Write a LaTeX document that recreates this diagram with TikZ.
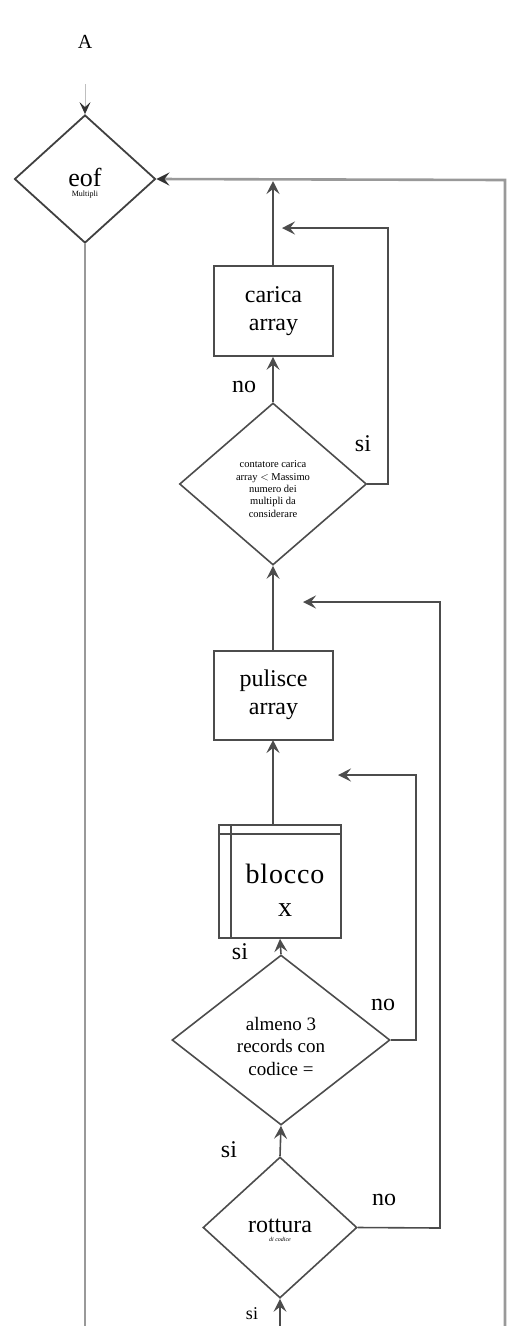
\documentclass[tikz,border=0pt]{standalone}
\usepackage{fontspec}
\setmainfont{Liberation Serif}
\usetikzlibrary{shapes.geometric,arrows.meta}
\tikzset{
  ln/.style={draw=black!70, line width=1.6pt},
  arr/.style={ln, -{Stealth[length=13pt,width=13pt,inset=5pt]}},
  gln/.style={draw=black!40, line width=2.6pt},
  garr/.style={gln, -{Stealth[length=13pt,width=13pt,inset=5pt,color=black!80]}},
  box/.style={rectangle, ln, inner sep=0pt},
  lbl/.style={font=\fontsize{24}{28}\selectfont, inner sep=0pt},
  txt/.style={align=center, inner sep=0pt}
}
\begin{document}
\begin{tikzpicture}[x=1pt,y=-1pt]
\useasboundingbox (0,0) rectangle (509,1326);
% top
\node[txt, font=\fontsize{20}{22}\selectfont] (A) at (85,42) {A};
\coordinate (Astart) at (85,84);
% eof
\node[diamond, draw=black!75, line width=1.8pt, inner sep=0pt, minimum width=141pt, minimum height=128pt] (eof) at (85,179) {};
\node[txt] (eoft) at (85,183) {{\fontsize{26}{28}\selectfont eof}\\[-2pt]{\fontsize{8}{9}\selectfont Multipli}};
\draw[draw=black!25, line width=1pt, -{Stealth[length=12pt,width=11pt,inset=5pt,color=black!80]}] (Astart) -- (eof.north);
\coordinate (bottomL) at (85,1330);
\draw[gln] (eof.south) -- (bottomL);
\coordinate (bottomR) at (505,1330);
\coordinate (topR) at (505,180);
\draw[garr] (bottomR) -- (topR) -- (eof.east);
% carica array
\node[box, minimum width=119pt, minimum height=90pt] (carica) at (273.5,311) {};
\node[txt, font=\fontsize{24}{28}\selectfont] (caricat) at (273.5,311) {carica\\array};
\coordinate (topC) at (273,181);
\draw[arr] (carica.north -| topC) -- (topC);
% diamond 2
\node[diamond, ln, inner sep=0pt, minimum width=187pt, minimum height=162pt] (d2) at (273,484) {};
\node[txt, font=\fontsize{10.5}{12.3}\selectfont] (d2t) at (273,489) {contatore carica\\array $<$ Massimo\\numero dei\\multipli da\\considerare};
\coordinate (d2a) at (388,484);
\coordinate (d2b) at (388,228);
\coordinate (d2c) at (282,228);
\draw[arr] (d2.east) -- (d2a) -- (d2b) -- (d2c);
\draw[arr] (d2.north) -- (d2.north |- carica.south);
\node[lbl] (no1) at (244,387) {no};
\node[lbl] (si1) at (363,444) {si};
% pulisce array
\node[box, minimum width=119pt, minimum height=89pt] (pulisce) at (273.5,695.5) {};
\node[txt, font=\fontsize{24}{28}\selectfont] (pulisct) at (273.5,695) {pulisce\\array};
\draw[arr] (pulisce.north -| d2.south) -- (d2.south);
% blocco x
\node[box, minimum width=122pt, minimum height=113pt] (blocco) at (280,881.5) {};
\draw[ln] ([yshift=-10pt]blocco.north west) -- ([yshift=-10pt]blocco.north east);
\draw[ln] ([xshift=13pt]blocco.north west) -- ([xshift=13pt]blocco.south west);
\node[txt, font=\fontsize{28}{33}\selectfont] (bloccot) at (285,890) {b\kern0.8pt l\kern0.8pt o\kern0.8pt c\kern0.8pt c\kern0.8pt o\\x};
\coordinate (pulX) at (273,740);
\draw[arr] (blocco.north -| pulX) -- (pulX);
% almeno 3
\node[diamond, ln, inner sep=0pt, minimum width=218pt, minimum height=170pt] (d3) at (281,1040) {};
\node[txt, font=\fontsize{19}{22.5}\selectfont] (d3t) at (281,1046) {almeno 3\\records con\\codice =};
\coordinate (d3a) at (416,1040);
\coordinate (d3b) at (416,775);
\coordinate (d3c) at (338,775);
\draw[arr] (d3.east) -- (d3a) -- (d3b) -- (d3c);
\draw[arr] (d3.north) -- (blocco.south);
\node[lbl] (si2) at (240,952) {si};
\node[lbl] (no2) at (383,1005) {no};
% rottura
\node[diamond, ln, inner sep=0pt, minimum width=154pt, minimum height=141pt] (d4) at (280,1227.5) {};
\node[txt] (d4t) at (280,1230) {{\fontsize{24}{26}\selectfont rottura}\\[-3pt]{\fontsize{6}{7}\selectfont\itshape di codice}};
\coordinate (d4a) at (440,1228);
\coordinate (d4b) at (440,602);
\coordinate (d4c) at (303,602);
\draw[arr] (d4.east) -- (d4a) -- (d4b) -- (d4c);
\draw[arr] (d4.north) -- (d3.south);
\node[lbl] (si3) at (229,1150) {si};
\node[lbl] (no3) at (384,1200) {no};
\coordinate (bottomM) at (280,1330);
\draw[arr] (bottomM) -- (d4.south);
\node[lbl, font=\fontsize{18}{20}\selectfont] (si4) at (252,1314) {si};
\end{tikzpicture}
\end{document}
